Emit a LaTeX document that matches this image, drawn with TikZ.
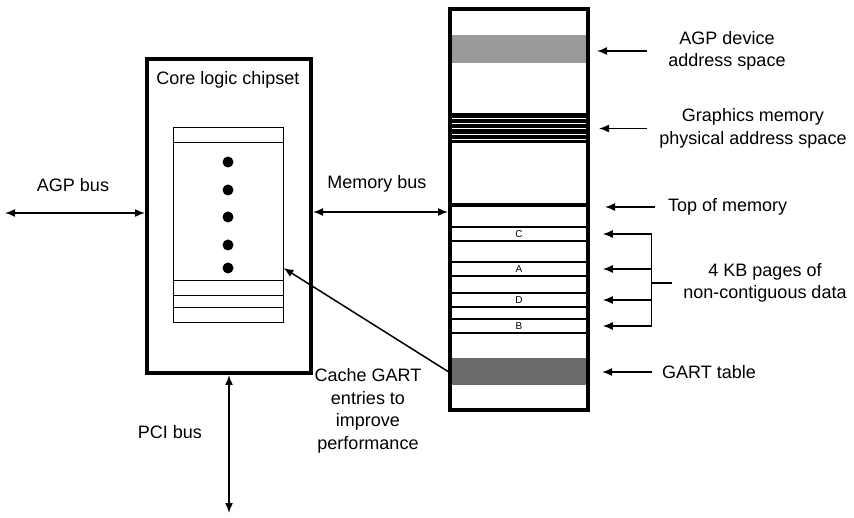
\documentclass[tikz,border=0pt]{standalone}
\usepackage{fontspec}
\setmainfont{Liberation Sans}
\usetikzlibrary{arrows.meta, positioning}

\begin{document}
\begin{tikzpicture}[x=1pt, y=-1pt,
          bigbox/.style={rectangle, draw=black, line width=4pt, inner sep=0pt},
          band/.style={rectangle, minimum width=138pt, inner sep=0pt},
          pagebox/.style={rectangle, draw=black, line width=1.5pt, minimum width=138pt, minimum height=14pt, inner sep=0pt, font=\fontsize{10}{12}\selectfont},
          txt/.style={font=\fontsize{18}{22.5}\selectfont, align=center, inner sep=0pt},
          dot/.style={circle, fill=black, minimum size=11pt, inner sep=0pt},
          ptr/.style={-{Latex[length=10pt, width=8pt]}, line width=1.5pt},
          dptr/.style={{Latex[length=10pt, width=8pt]}-{Latex[length=10pt, width=8pt]}, line width=1.5pt}]

        \useasboundingbox (0,0) rectangle (854,518);

        % chipset with its GART cache
        \node [bigbox, minimum width=164pt, minimum height=314pt] (chip) at (229,216) {};
        \node [txt] (chiptxt) at (228,80) {Core logic chipset};
        \node [rectangle, draw=black, line width=1pt, minimum width=110pt, minimum height=195pt, inner sep=0pt] (cache) at (228,225.5) {};
        \foreach \yy in {143,281,296,308}
          \draw [line width=1pt] (cache.west |- 0,\yy) -- (cache.east |- 0,\yy);
        \foreach \i/\yy in {1/162,2/190,3/217,4/245,5/268}
          \node [dot] (dot\i) at (228,\yy) {};

        % memory map
        \node [band, minimum height=28pt, fill=black!40] (agp) at (519,49) {};
        \node [band, minimum height=30pt, fill=black] (gfx) at (519,128) {};
        \foreach \yy in {118,123,128.5,134,139}
          \draw [white, line width=0.5pt] ([xshift=2pt]gfx.west |- 0,\yy) -- ([xshift=-2pt]gfx.east |- 0,\yy);
        \node [pagebox] (pgC) at (519,234) {C};
        \node [pagebox] (pgA) at (519,269) {A};
        \node [pagebox] (pgD) at (519,300) {D};
        \node [pagebox] (pgB) at (519,326) {B};
        \node [band, minimum height=27pt, fill=black!58] (gart) at (519,371.5) {};
        \node [bigbox, minimum width=138pt, minimum height=401pt] (mem) at (519,209.5) {};
        \coordinate (tom) at (519,205);
        \draw [line width=4pt] (tom -| mem.west) -- (tom -| mem.east);

        % buses
        \node [txt] (agpbus) at (73,185) {AGP bus};
        \node [txt] (membus) at (377,184) {Memory bus};
        \node [txt] (pcibus) at (170,432) {PCI bus};
        \coordinate (agpout) at (5,213);
        \coordinate (pciout) at (229,513);
        \draw [dptr] (agpout) -- (agpout -| chip.west);
        \draw [dptr] ([yshift=4pt]chip.east) -- ([yshift=4pt]chip.east -| mem.west);
        \draw [dptr] (chip.south) -- (pciout);

        \node [txt] (cachetxt) at (368,411) {Cache GART\\entries to\\improve\\performance};
        \draw [ptr] (mem.west |- gart) -- (dot5 -| cache.east);

        % labels on the right
        \node [txt] (agptxt) at (727,51) {AGP device\\address space};
        \node [txt] (gfxtxt) at (753,128.5) {Graphics memory\\physical address space};
        \node [txt, anchor=west] (toptxt) at (668,207) {Top of memory};
        \node [txt] (pagetxt) at (765,283) {4 KB pages of\\non-contiguous data};
        \node [txt, anchor=west] (garttxt) at (662,372) {GART table};

        \draw [ptr] ([xshift=-21pt]agptxt.west) -- ([xshift=7pt]agptxt.west -| mem.east);
        \draw [ptr] ([xshift=-12pt]gfxtxt.west) -- ([xshift=9pt]gfxtxt.west -| mem.east);
        \draw [ptr] ([xshift=-13pt]toptxt.west) -- ([xshift=15pt]toptxt.west -| mem.east);
        \draw [ptr] ([xshift=-10pt]garttxt.west) -- ([xshift=12pt]garttxt.west -| mem.east);

        \draw [line width=1.5pt] ([xshift=-11.5pt]pagetxt.west) -- ([xshift=-31.5pt]pagetxt.west) coordinate (brk);
        \draw [line width=1.5pt] (brk |- pgC) -- (brk |- pgB);
        \foreach \p in {pgC,pgA,pgD,pgB}
          \draw [ptr] (brk |- \p) -- ([xshift=14pt]\p.east);
      \end{tikzpicture}
\end{document}
